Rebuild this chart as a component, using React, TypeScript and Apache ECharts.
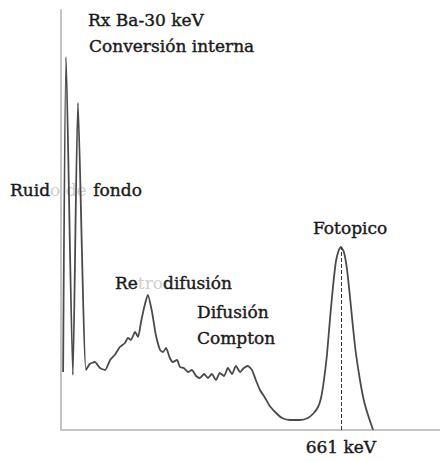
import React, { useEffect, useRef } from "react";
import * as echarts from "echarts";

// Cs-137 gamma spectrum (arbitrary counts)
const energyKeV = [5, 12, 28, 40, 59, 68, 80, 92, 104, 116, 127, 139, 151, 158, 165, 175, 182, 189, 196, 205, 215, 224, 234, 241, 248, 257, 264, 274, 281, 290, 300, 309, 319, 328, 338, 347, 356, 366, 375, 385, 394, 404, 413, 423, 432, 441, 451, 460, 470, 482, 493, 508, 522, 541, 564, 583, 597, 607, 614, 621, 628, 635, 642, 649, 656, 661, 668, 675, 682, 689, 696, 706, 715, 725, 737];
const counts = [58, 373, 55, 327, 60, 66, 68, 62, 60, 70, 75, 83, 87, 92, 90, 98, 93, 108, 122, 135, 118, 95, 80, 78, 82, 72, 68, 70, 63, 62, 58, 60, 54, 52, 56, 52, 56, 50, 57, 54, 62, 56, 64, 58, 62, 64, 60, 50, 40, 32, 24, 17, 12, 10, 10, 12, 17, 23, 32, 50, 75, 110, 142, 168, 180, 183, 178, 162, 135, 105, 78, 50, 30, 15, 0];
const photopeakKeV = 661;
const photopeakLabel = "661 keV";

const FONT = "'DejaVu Serif', 'Liberation Serif', serif";
const INK = "#1a1a1a";
const FADE = "#cfcfcf";

export default function App() {
  const ref = useRef<HTMLDivElement>(null);
  useEffect(() => {
    if (!ref.current) return;
    const chart = echarts.init(ref.current, null, { renderer: "svg" });
    const txt = (text: string, x: number, y: number) => ({
      type: "text",
      x,
      y,
      style: {
        text,
        fontSize: 17,
        fontFamily: FONT,
        fill: INK,
        stroke: INK,
        lineWidth: 0.4,
        verticalAlign: "middle",
      },
    });
    const rich = {
      a: { fontSize: 17, fontFamily: FONT, fill: INK, stroke: INK, lineWidth: 0.4 },
      b: { fontSize: 17, fontFamily: FONT, fill: FADE },
    };
    chart.setOption({
      animation: false,
      backgroundColor: "#fff",
      grid: { left: 61, right: 0, top: 10, bottom: 32 },
      xAxis: {
        type: "value",
        min: 0,
        max: 895,
        axisLine: { show: true, lineStyle: { color: "#c4c4c4", width: 2 } },
        axisTick: { show: false },
        axisLabel: { show: false },
        splitLine: { show: false },
      },
      yAxis: {
        type: "value",
        min: 0,
        max: 420,
        axisLine: { show: true, lineStyle: { color: "#c4c4c4", width: 2 } },
        axisTick: { show: false },
        axisLabel: { show: false },
        splitLine: { show: false },
      },
      series: [
        {
          type: "line",
          data: energyKeV.map((e, i) => [e, counts[i]]),
          showSymbol: false,
          smooth: 0.2,
          lineStyle: { color: "#4a4a4a", width: 1.8 },
          markLine: {
            silent: true,
            symbol: "none",
            lineStyle: { type: "dashed", color: "#333", width: 1 },
            label: {
              show: true,
              position: "start",
              distance: 8,
              formatter: photopeakLabel,
              fontSize: 17,
              fontFamily: FONT,
              color: INK,
              textBorderColor: INK,
              textBorderWidth: 0.4,
            },
            data: [[{ coord: [photopeakKeV, 0] }, { coord: [photopeakKeV, 183] }]],
          },
        },
      ],
      graphic: [
        txt("Rx Ba-30 keV", 88, 20),
        txt("Conversión interna", 89, 46),
        {
          type: "text",
          x: 10,
          y: 190,
          style: { text: "{a|Ruid}{b|o de}  {a|fondo}", rich, verticalAlign: "middle" },
        },
        {
          type: "text",
          x: 115,
          y: 283,
          style: { text: "{a|Re}{b|tro}{a|difusión}", rich, verticalAlign: "middle" },
        },
        txt("Difusión", 197, 312),
        txt("Compton", 197, 338),
        txt("Fotopico", 313, 228),
      ],
    });
    return () => chart.dispose();
  }, []);
  return (
    <div
      ref={ref}
      style={{ position: "fixed", left: 0, top: 0, width: 440, height: 462, background: "#fff" }}
    />
  );
}
